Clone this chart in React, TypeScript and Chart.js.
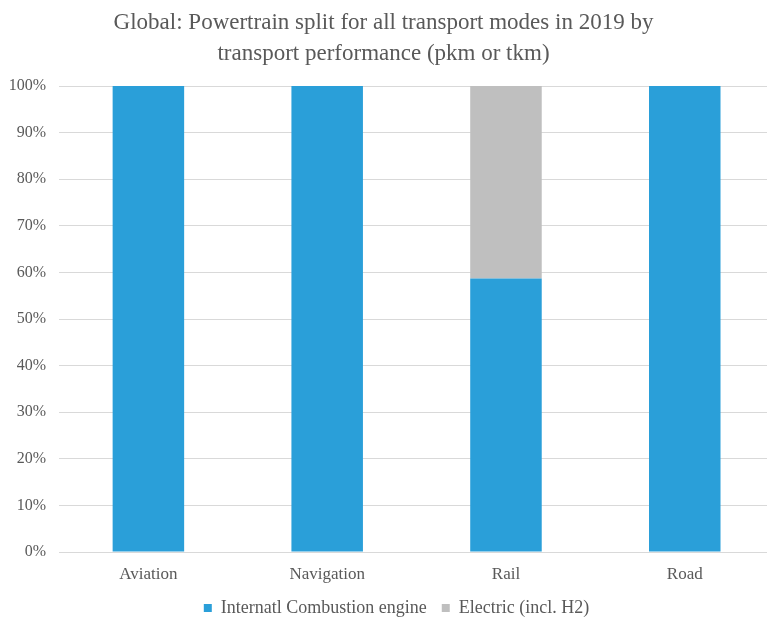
import React, { useEffect, useRef } from "react";
import { Chart, registerables } from "chart.js";

Chart.register(...registerables);

const categories = ["Aviation", "Navigation", "Rail", "Road"];
const iceShare = [100, 100, 58.7, 100];
const electricShare = [0, 0, 41.3, 0];
const yTicks = [0, 10, 20, 30, 40, 50, 60, 70, 80, 90, 100];

const titleLines = [
  "Global: Powertrain split for all transport modes in 2019 by",
  "transport performance (pkm or tkm)",
];
const seriesNames = ["Internatl Combustion engine", "Electric (incl. H2)"];

const FONT = "'Liberation Serif', 'Times New Roman', serif";
const TEXT = "#595959";

const LEGEND_HEIGHT = 35;
const LEGEND_SHIFT = 13;

const legendPlacementPlugin = {
  id: "legendPlacement",
  beforeInit(chart: any) {
    const legend = chart.legend;
    if (!legend) return;
    const orig = legend.fit.bind(legend);
    legend.fit = function () {
      orig();
      this.height = LEGEND_HEIGHT;
    };
  },
  afterLayout(chart: any) {
    const legend = chart.legend;
    if (!legend) return;
    legend.left += LEGEND_SHIFT;
    legend.right += LEGEND_SHIFT;
  },
};

export default function App() {
  const ref = useRef<HTMLCanvasElement | null>(null);

  useEffect(() => {
    document.body.style.margin = "0";
    const canvas = ref.current;
    if (!canvas) return;
    const chart = new Chart(canvas, {
      type: "bar",
      plugins: [legendPlacementPlugin],
      data: {
        datasets: [
          {
            label: seriesNames[0],
            data: categories.map((_, i) => ({ x: i, y: iceShare[i] })),
            backgroundColor: "#2A9FD9",
            barPercentage: 0.4,
            categoryPercentage: 1,
          },
          {
            label: seriesNames[1],
            data: categories.map((_, i) => ({ x: i, y: electricShare[i] })),
            backgroundColor: "#BFBFBF",
            barPercentage: 0.4,
            categoryPercentage: 1,
          },
        ],
      },
      options: {
        responsive: false,
        animation: false,
        layout: { padding: 0 },
        plugins: {
          title: {
            display: true,
            text: titleLines,
            color: TEXT,
            font: { family: FONT, size: 23, weight: "normal", lineHeight: 1.35 },
            padding: { top: 7, bottom: 17 },
          },
          legend: {
            display: true,
            position: "bottom",
            labels: {
              color: TEXT,
              font: { family: FONT, size: 18 },
              boxWidth: 8,
              boxHeight: 8,
              padding: 15,
            },
          },
          tooltip: { enabled: false },
        },
        scales: {
          x: {
            type: "linear",
            stacked: true,
            offset: false,
            min: -0.5,
            max: 3.46,
            grid: { display: false, drawTicks: false },
            border: { display: true, color: "#D9D9D9", width: 1 },
            afterBuildTicks: (axis: any) => {
              axis.ticks = categories.map((_, i) => ({ value: i }));
            },
            afterFit: (axis: any) => {
              axis.height = 32;
            },
            ticks: {
              color: TEXT,
              font: { family: FONT, size: 17 },
              padding: 12,
              autoSkip: false,
              maxRotation: 0,
              callback: (v: any) => categories[Math.round(Number(v))] ?? "",
            },
          },
          y: {
            stacked: true,
            min: 0,
            max: 100,
            afterBuildTicks: (axis: any) => {
              axis.ticks = yTicks.map((v) => ({ value: v }));
            },
            afterFit: (axis: any) => {
              axis.width = 59;
            },
            grid: { color: "#D9D9D9", drawTicks: false },
            border: { display: false },
            ticks: {
              color: TEXT,
              font: { family: FONT, size: 16 },
              padding: 13,
              callback: (v: any) => `${v}%`,
            },
          },
        },
      },
    });
    return () => chart.destroy();
  }, []);

  return (
    <div style={{ width: 767, height: 619, background: "#fff" }}>
      <canvas ref={ref} width={767} height={619} style={{ display: "block" }} />
    </div>
  );
}
